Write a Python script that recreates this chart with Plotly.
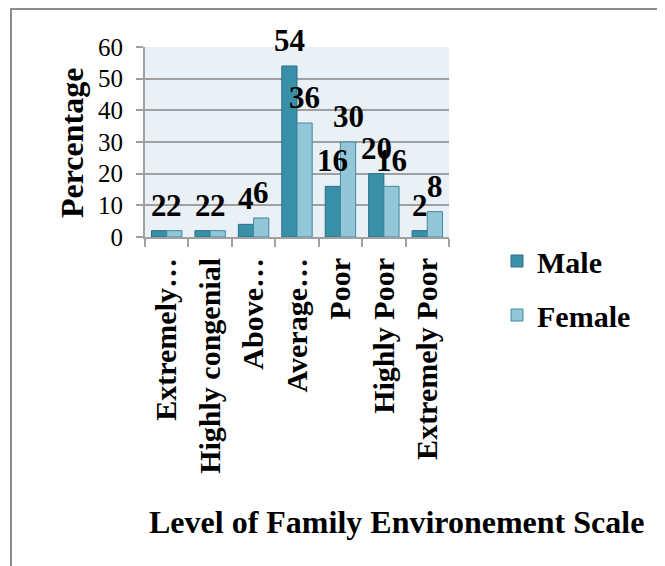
import plotly.graph_objects as go

categories = ["Extremely…", "Highly congenial", "Above…", "Average…", "Poor", "Highly Poor", "Extremely Poor"]
male = [2, 2, 4, 54, 16, 20, 2]
female = [2, 2, 6, 36, 30, 16, 8]
y_ticks = [0, 10, 20, 30, 40, 50, 60]

# page body has an 8px margin; work in window pixels and convert
O = 8
W, H = 665 - O, 566 - O
PL, PR, PT, PB = 145, 449, 47, 237          # plot area in window pixels
L, R, T, B = PL - O, W - (PR - O), PT - O, H - (PB - O)
PW = W - L - R
PH = H - T - B
BARGAP = 0.3

def px(x):
    return (x - O - L) / PW

def py(y):
    return (H - B - (y - O)) / PH

SERIF = "Liberation Serif, Times New Roman, serif"
LABEL_FONT = dict(family=SERIF, size=31, color="black", weight="bold")

fig = go.Figure()
fig.add_trace(go.Bar(
    name="Male", x=categories, y=male, legendgroup="m",
    marker=dict(color="#3A90A8", line=dict(color="#2B6F86", width=1)),
))
fig.add_trace(go.Bar(
    name="Female", x=categories, y=female, legendgroup="f",
    marker=dict(color="#93C6D6", line=dict(color="#3E8AA2", width=1)),
))

# value labels drawn above all bars, centred on each bar of the group
bar_w = PW / len(categories) * (1 - BARGAP) / 2
annotations = []
for cat, m, f in zip(categories, male, female):
    annotations.append(dict(x=cat, y=m, xref="x", yref="y", text=str(m), showarrow=False,
                            xanchor="center", yanchor="bottom", xshift=-bar_w / 2, yshift=6,
                            font=LABEL_FONT))
    annotations.append(dict(x=cat, y=f, xref="x", yref="y", text=str(f), showarrow=False,
                            xanchor="center", yanchor="bottom", xshift=bar_w / 2, yshift=6,
                            font=LABEL_FONT))

annotations += [
    dict(text="Level of Family Environement Scale", xref="paper", yref="paper",
         x=px(396), y=py(522), xanchor="center", yanchor="middle", showarrow=False,
         font=dict(family=SERIF, size=32, color="black", weight="bold")),
    dict(text="Percentage", xref="paper", yref="paper", textangle=-90,
         x=px(72), y=py(143), xanchor="center", yanchor="middle", showarrow=False,
         font=dict(family=SERIF, size=32, color="black", weight="bold")),
]

fig.update_layout(
    width=W, height=H,
    margin=dict(l=L, r=R, t=T, b=B, autoexpand=False),
    paper_bgcolor="white", plot_bgcolor="#EAF1F6",
    barmode="group", bargap=BARGAP, bargroupgap=0,
    font=dict(family=SERIF, color="black"),
    showlegend=True,
    legend=dict(
        x=px(497), y=py(235), xanchor="left", yanchor="top",
        font=dict(family=SERIF, size=30, color="black", weight="bold"),
        tracegroupgap=12, bgcolor="rgba(0,0,0,0)", itemwidth=30,
    ),
    xaxis=dict(
        tickangle=-90, tickfont=dict(family=SERIF, size=30, color="black", weight="bold"),
        showline=True, linecolor="#A0A0A0", linewidth=2,
        ticks="outside", tickson="boundaries", ticklen=8, tickcolor="#A0A0A0", tickwidth=2,
        ticklabelstandoff=7, showgrid=False,
    ),
    yaxis=dict(
        range=[0, 60], tickvals=y_ticks,
        tickfont=dict(family=SERIF, size=25, color="black"),
        showline=True, linecolor="#A0A0A0", linewidth=2,
        ticks="outside", ticklen=7, tickcolor="#A0A0A0", tickwidth=2, ticklabelstandoff=8,
        showgrid=True, gridcolor="#A0A0A0", gridwidth=2, zeroline=False,
    ),
    annotations=annotations,
    shapes=[
        dict(type="rect", xref="paper", yref="paper",
             x0=px(11), x1=px(660), y0=py(590), y1=py(9),
             line=dict(color="#8C8C8C", width=2), fillcolor="rgba(0,0,0,0)", layer="below"),
    ],
)

fig.write_html("out.html")
